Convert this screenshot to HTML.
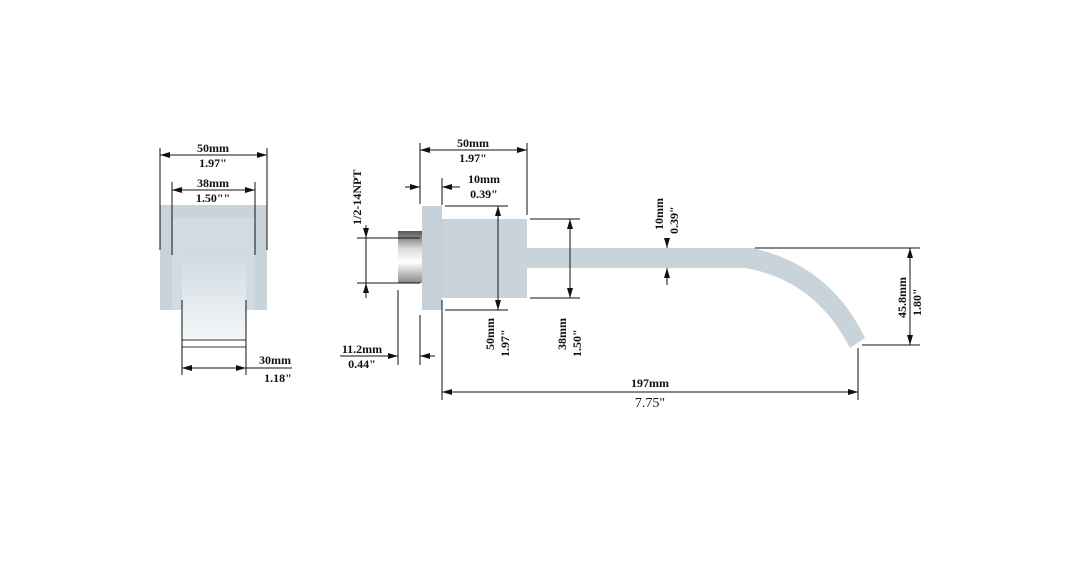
<!DOCTYPE html>
<html><head><meta charset="utf-8"><style>
html,body{margin:0;padding:0;background:#fff;}
svg{display:block}
text{font-family:"Liberation Serif",serif;font-weight:bold;font-size:12px;fill:#111}
</style></head><body>
<svg width="1080" height="580" viewBox="0 0 1080 580" xmlns="http://www.w3.org/2000/svg">
<defs>
<linearGradient id="pl" x1="0" y1="0" x2="0" y2="1"><stop offset="0" stop-color="#cfd9e0"/><stop offset="1" stop-color="#f2f6f8"/></linearGradient>
<linearGradient id="pipe" x1="0" y1="0" x2="0" y2="1"><stop offset="0" stop-color="#555"/><stop offset="0.35" stop-color="#ddd"/><stop offset="0.6" stop-color="#fff"/><stop offset="1" stop-color="#888"/></linearGradient>
<marker id="a" markerWidth="10" markerHeight="6" refX="10" refY="3" orient="auto-start-reverse" markerUnits="userSpaceOnUse"><path d="M0,0 L10,3 L0,6z" fill="#111"/></marker>
</defs>
<g stroke="#111" stroke-width="1" fill="none">
<!-- left view shapes -->
<rect x="160" y="205" width="107" height="105" fill="#c9d3da" stroke="none"/>
<rect x="172" y="218" width="83" height="92" fill="#d2dbe1" stroke="none"/>
<rect x="182" y="248" width="64" height="92" fill="url(#pl)" stroke="none"/>
<rect x="182" y="340" width="64" height="7" fill="#fff" stroke="#333"/>
<!-- left dims -->
<line x1="160" y1="148" x2="160" y2="250"/><line x1="267" y1="148" x2="267" y2="250"/>
<line x1="160" y1="155" x2="267" y2="155" marker-start="url(#a)" marker-end="url(#a)"/>
<line x1="172" y1="182" x2="172" y2="255"/><line x1="255" y1="182" x2="255" y2="255"/>
<line x1="172" y1="190" x2="255" y2="190" marker-start="url(#a)" marker-end="url(#a)"/>
<line x1="182" y1="300" x2="182" y2="375"/><line x1="246" y1="300" x2="246" y2="375"/>
<line x1="182" y1="368" x2="246" y2="368" marker-start="url(#a)" marker-end="url(#a)"/>
<line x1="246" y1="368" x2="292" y2="368"/>
<!-- right view shapes -->
<rect x="398" y="231" width="24" height="52" fill="url(#pipe)" stroke="none"/>
<rect x="422" y="206" width="20" height="104" fill="#c5d0d8" stroke="none"/>
<rect x="442" y="219" width="85" height="79" fill="#c9d3da" stroke="none"/>
<rect x="527" y="248" width="228" height="20" fill="#c9d3da" stroke="none"/>
<path d="M752,248 Q830,265 865,338 L850,348 Q815,280 745,268 Z" fill="#c9d3da" stroke="none"/>
<!-- NPT dim -->
<line x1="357" y1="238" x2="420" y2="238"/><line x1="357" y1="283" x2="420" y2="283"/>
<line x1="366" y1="225" x2="366" y2="298"/>
<line x1="366" y1="232" x2="366" y2="238" marker-end="url(#a)"/>
<line x1="366" y1="290" x2="366" y2="283" marker-end="url(#a)"/>
<!-- 50mm top -->
<line x1="420" y1="143" x2="420" y2="204"/><line x1="527" y1="143" x2="527" y2="215"/>
<line x1="420" y1="150" x2="527" y2="150" marker-start="url(#a)" marker-end="url(#a)"/>
<!-- 10mm -->
<line x1="442" y1="178" x2="442" y2="205"/>
<line x1="405" y1="187" x2="420" y2="187" marker-end="url(#a)"/>
<line x1="460" y1="187" x2="442" y2="187" marker-end="url(#a)"/>
<!-- 11.2 -->
<line x1="398" y1="290" x2="398" y2="365"/><line x1="420" y1="315" x2="420" y2="365"/>
<line x1="340" y1="356" x2="398" y2="356" marker-end="url(#a)"/>
<line x1="435" y1="356" x2="420" y2="356" marker-end="url(#a)"/>
<!-- 50mm vertical -->
<line x1="445" y1="206" x2="508" y2="206"/><line x1="445" y1="310" x2="508" y2="310"/>
<line x1="498" y1="206" x2="498" y2="310" marker-start="url(#a)" marker-end="url(#a)"/>
<!-- 38mm vertical -->
<line x1="530" y1="219" x2="580" y2="219"/><line x1="530" y1="298" x2="580" y2="298"/>
<line x1="570" y1="219" x2="570" y2="298" marker-start="url(#a)" marker-end="url(#a)"/>
<!-- 10mm spout -->
<line x1="667" y1="238" x2="667" y2="248" marker-end="url(#a)"/>
<line x1="667" y1="285" x2="667" y2="268" marker-end="url(#a)"/>
<!-- 45.8 -->
<line x1="755" y1="248" x2="920" y2="248"/><line x1="862" y1="345" x2="920" y2="345"/>
<line x1="910" y1="248" x2="910" y2="345" marker-start="url(#a)" marker-end="url(#a)"/>
<!-- 197 -->
<line x1="442" y1="300" x2="442" y2="400"/><line x1="858" y1="348" x2="858" y2="400"/>
<line x1="442" y1="392" x2="858" y2="392" marker-start="url(#a)" marker-end="url(#a)"/>
</g>
<!-- texts -->
<text x="213" y="152" text-anchor="middle">50mm</text>
<text x="213" y="167" text-anchor="middle">1.97"</text>
<text x="213" y="187" text-anchor="middle">38mm</text>
<text x="213" y="202" text-anchor="middle">1.50""</text>
<text x="275" y="364" text-anchor="middle">30mm</text>
<text x="278" y="382" text-anchor="middle">1.18"</text>
<text transform="translate(361,225) rotate(-90)">1/2-14NPT</text>
<text x="473" y="147" text-anchor="middle">50mm</text>
<text x="473" y="162" text-anchor="middle">1.97"</text>
<text x="484" y="183" text-anchor="middle">10mm</text>
<text x="484" y="198" text-anchor="middle">0.39"</text>
<text x="362" y="353" text-anchor="middle">11.2mm</text>
<text x="362" y="368" text-anchor="middle">0.44"</text>
<text transform="translate(494,350) rotate(-90)">50mm</text>
<text transform="translate(509,357) rotate(-90)">1.97"</text>
<text transform="translate(566,350) rotate(-90)">38mm</text>
<text transform="translate(581,357) rotate(-90)">1.50"</text>
<text transform="translate(663,230) rotate(-90)">10mm</text>
<text transform="translate(678,234) rotate(-90)">0.39"</text>
<text transform="translate(906,318) rotate(-90)">45.8mm</text>
<text transform="translate(921,316) rotate(-90)">1.80"</text>
<text x="650" y="387" text-anchor="middle">197mm</text>
<text x="650" y="407" text-anchor="middle" style="font-weight:normal;font-size:14px">7.75"</text>
</svg>
</body></html>
